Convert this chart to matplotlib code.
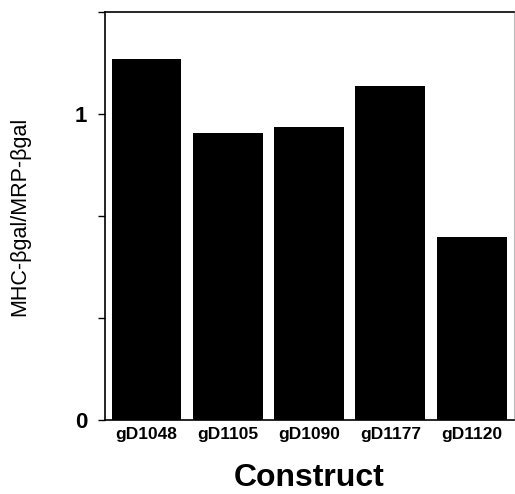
import matplotlib
matplotlib.use("Agg")
import matplotlib.pyplot as plt
from matplotlib.ticker import FixedLocator

constructs = ["gD1048", "gD1105", "gD1090", "gD1177", "gD1120"]
ratios = [1.179, 0.937, 0.958, 1.091, 0.597]
ytick_major = [0, 1]
ytick_minor = [1/3, 2/3, 4/3]

plt.rcParams['font.family'] = ['Liberation Sans', 'DejaVu Sans']

fig = plt.figure(figsize=(5.15, 4.94), dpi=100)
ax = fig.add_axes([0.204, 0.150, 0.794, 0.826])

x = list(range(len(constructs)))
ax.bar(x, ratios, width=0.86, color="black")
ax.set_xlim(-0.51, 4.52)
ax.set_ylim(0, 4/3)

ax.yaxis.set_major_locator(FixedLocator(ytick_major))
ax.yaxis.set_minor_locator(FixedLocator(ytick_minor))
ax.set_yticklabels(["0", "1"], fontsize=16, fontweight="bold")
ax.tick_params(axis="y", which="both", direction="out", length=5, width=1, pad=8)
ax.set_xticks(x)
ax.set_xticklabels(constructs, fontsize=12.5, fontweight="bold")
ax.tick_params(axis="x", length=0, pad=5)

for s in ["left", "top", "bottom"]:
    ax.spines[s].set_linewidth(1.2)
    ax.spines[s].set_color("black")
ax.spines["right"].set_color("#bbbbbb")
ax.spines["right"].set_linewidth(0.8)

ax.set_ylabel("MHC-βgal/MRP-βgal", fontsize=15.5, labelpad=32)
ax.set_xlabel("Construct", fontsize=23, fontweight="bold", labelpad=15.5)

fig.savefig("out.png", dpi=100)
